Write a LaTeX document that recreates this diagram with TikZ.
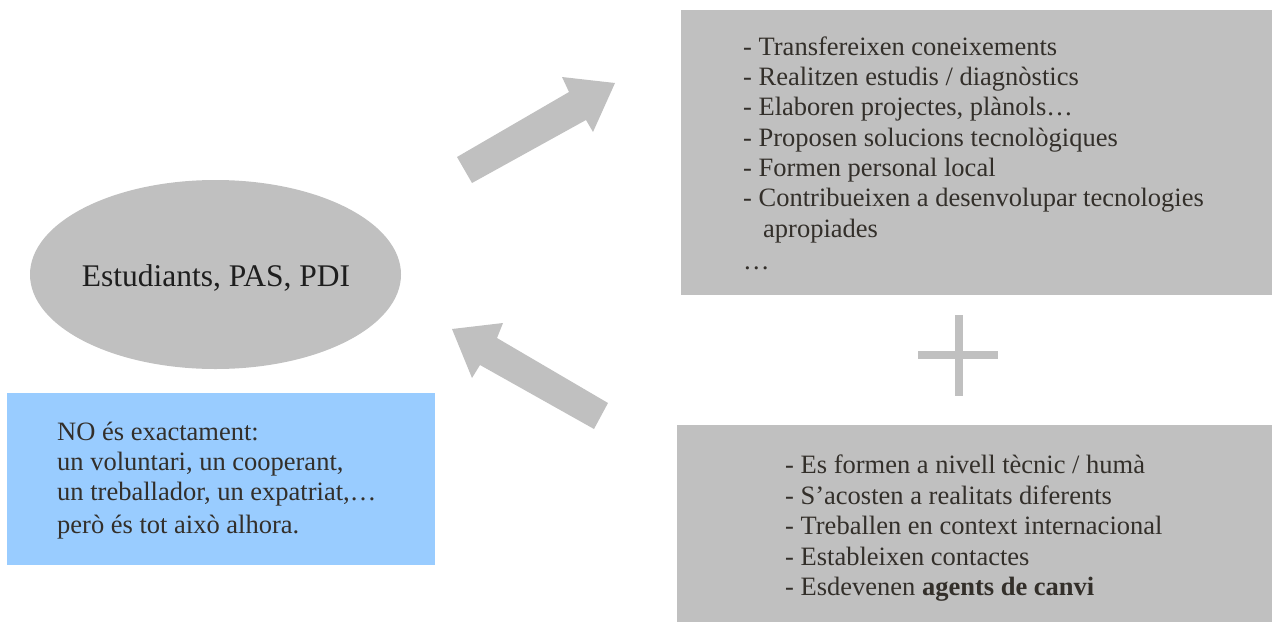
\documentclass[tikz,border=0pt]{standalone}
\usepackage{fontspec}
\setmainfont{Liberation Serif}
\usetikzlibrary{shapes.geometric}
\definecolor{boxgray}{HTML}{C0C0C0}
\definecolor{boxblue}{HTML}{99CCFF}
\definecolor{txt}{HTML}{332F2A}
\definecolor{darktxt}{HTML}{1E1E1E}
\begin{document}
\begin{tikzpicture}[x=1pt,y=-1pt,
  item/.style={anchor=base west, inner sep=0pt, text=txt, font=\fontsize{26.5}{30.5}\selectfont},
  panel/.style={fill=boxgray, draw=none, anchor=north west, inner sep=0pt},
  bluepanel/.style={fill=boxblue, draw=none, anchor=north west, inner sep=0pt},
  bigarrow/.style={fill=boxgray, draw=none}]
\useasboundingbox (0,0) rectangle (1272,622);

% ellipse
\node[ellipse, fill=boxgray, draw=none, inner sep=0pt, minimum width=371pt, minimum height=189pt] (people) at (215.5,274.5) {};
\node[anchor=base, inner sep=0pt, text=darktxt, font=\fontsize{31.5}{36}\selectfont] (peoplelabel) at (216,286) {Estudiants, PAS, PDI};

% boxes
\node[panel, minimum width=591pt, minimum height=285pt] (tasks) at (681,10) {};
\node[panel, minimum width=595pt, minimum height=197pt] (gains) at (677,425) {};
\node[bluepanel, minimum width=428pt, minimum height=172pt] (note) at (7,393) {};

% arrows
\draw[bigarrow] (457,157) -- (569,92) -- (562,77) -- (615,83) -- (593,132) -- (586,120) -- (472,183) -- cycle;
\draw[bigarrow] (608,403) -- (497,338) -- (503,323) -- (452,329) -- (472,378) -- (480,365) -- (594,429) -- cycle;

% plus
\fill[boxgray] (955,315) rectangle (963,396);
\fill[boxgray] (918,351) rectangle (998,359);

% top box text
\node[item] (t1) at (743,55) {- Transfereixen coneixements};
\node[item] (t2) at (743,85.3) {- Realitzen estudis / diagnòstics};
\node[item] (t3) at (743,115.7) {- Elaboren projectes, plànols…};
\node[item] (t4) at (743,146) {- Proposen solucions tecnològiques};
\node[item] (t5) at (743,176.3) {- Formen personal local};
\node[item] (t6) at (743,206.7) {- Contribueixen a desenvolupar tecnologies};
\node[item] (t7) at (763,237) {apropiades};
\node[item] (t8) at (743,269) {…};

% bottom box text
\node[item] (g1) at (785,473.5) {- Es formen a nivell tècnic / humà};
\node[item] (g2) at (785,504) {- S’acosten a realitats diferents};
\node[item] (g3) at (785,534.5) {- Treballen en context internacional};
\node[item] (g4) at (785,565) {- Estableixen contactes};
\node[item] (g5) at (785,595.5) {- Esdevenen \textbf{agents de canvi}};

% blue box text
\node[item] (n1) at (57,440.7) {NO és exactament:};
\node[item] (n2) at (57,470.5) {un voluntari, un cooperant,};
\node[item] (n3) at (57,500.7) {un treballador, un expatriat,…};
\node[item] (n4) at (57,533.3) {però és tot això alhora.};
\end{tikzpicture}
\end{document}
